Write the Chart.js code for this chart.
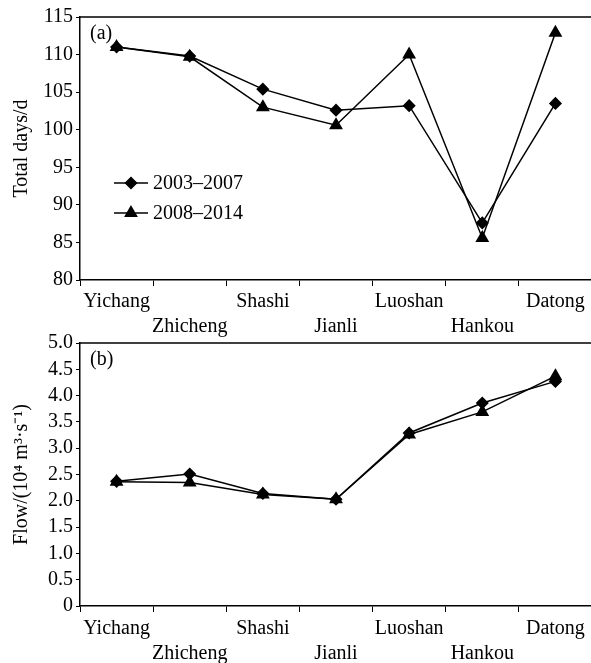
<!DOCTYPE html>
<html>
<head>
<meta charset="utf-8">
<script src="https://cdn.jsdelivr.net/npm/chart.js@4/dist/chart.umd.min.js"></script>
<style>
  html, body { margin: 0; padding: 0; background: #fff; overflow: hidden; width: 591px; height: 663px; }
  .panel { position: absolute; left: 0; width: 600px; height: 340px; }
  #wrapA { top: 0; }
  #wrapB { top: 323px; }
</style>
</head>
<body>
<div class="panel" id="wrapA"><canvas id="chartA" width="600" height="340"></canvas></div>
<div class="panel" id="wrapB"><canvas id="chartB" width="600" height="340"></canvas></div>
<script>
const stations = ['Yichang', 'Zhicheng', 'Shashi', 'Jianli', 'Luoshan', 'Hankou', 'Datong'];
const seriesNames = ['2003–2007', '2008–2014'];

// (a) total days
const daysEarly = [111.0, 109.8, 105.4, 102.6, 103.2, 87.6, 103.5];
const daysLate = [111.0, 109.7, 103.0, 100.6, 110.0, 85.6, 112.9];

// (b) flow, 10^4 m3/s
const flowEarly = [2.37, 2.51, 2.14, 2.03, 3.29, 3.86, 4.27];
const flowLate = [2.36, 2.35, 2.12, 2.03, 3.26, 3.69, 4.37];

const FONT = 'Liberation Serif';

// alternate labels on two rows like the original figure
const twoRowLabels = stations.map((s, i) => i % 2 === 0 ? [s, ''] : ['', s]);

const panelDecor = {
  id: 'panelDecor',
  afterDraw(chart, args, opts) {
    const ctx = chart.ctx;
    const a = chart.chartArea;
    ctx.save();
    ctx.strokeStyle = '#000';
    ctx.lineWidth = 1.5;
    ctx.beginPath();
    ctx.moveTo(a.left, a.top);
    ctx.lineTo(a.right, a.top);
    ctx.lineTo(a.right, a.bottom);
    ctx.stroke();

    ctx.fillStyle = '#000';
    ctx.font = '20px "' + FONT + '"';
    ctx.textBaseline = 'middle';
    ctx.textAlign = 'left';
    ctx.fillText(opts.tag, a.left + 10, a.top + 17);

    if (opts.legend) {
      chart.data.datasets.forEach((ds, i) => {
        const y = opts.legend.y + i * 30;
        const x0 = a.left + 34;
        ctx.beginPath();
        ctx.lineWidth = 1.5;
        ctx.moveTo(x0, y);
        ctx.lineTo(x0 + 34, y);
        ctx.stroke();
        Chart.helpers.drawPoint(ctx, {
          pointStyle: ds.pointStyle,
          radius: ds.pointRadius,
          borderWidth: 1
        }, x0 + 17, y);
        ctx.fillText(ds.label, x0 + 39, y + 1);
      });
    }
    ctx.restore();
  }
};

function makePanel(id, early, late, yMin, yMax, step, yTitle, tag, legend, topPad, xHeight, xPad) {
  return new Chart(document.getElementById(id), {
    type: 'line',
    data: {
      labels: twoRowLabels,
      datasets: [
        {
          label: seriesNames[0],
          data: early,
          borderColor: '#000',
          backgroundColor: '#000',
          borderWidth: 1.5,
          pointStyle: 'rectRot',
          pointRadius: 5.5,
          tension: 0
        },
        {
          label: seriesNames[1],
          data: late,
          borderColor: '#000',
          backgroundColor: '#000',
          borderWidth: 1.5,
          pointStyle: 'triangle',
          pointRadius: 6.5,
          tension: 0
        }
      ]
    },
    options: {
      responsive: false,
      animation: false,
      layout: { padding: { top: topPad, right: 7, left: 0, bottom: 0 } },
      plugins: {
        legend: { display: false },
        tooltip: { enabled: false },
        panelDecor: { tag: tag, legend: legend }
      },
      scales: {
        x: {
          offset: true,
          border: { color: '#000', width: 1.5 },
          grid: { offset: true, drawOnChartArea: false, drawTicks: true, tickLength: 6, color: '#000', lineWidth: 1 },
          ticks: {
            autoSkip: false, maxRotation: 0, color: '#000', padding: xPad,
            font: { family: FONT, size: 20, lineHeight: 1.25 }
          },
          afterFit: s => { s.height = xHeight; }
        },
        y: {
          min: yMin,
          max: yMax,
          border: { color: '#000', width: 1.5 },
          grid: { drawOnChartArea: false, drawTicks: true, tickLength: 4, color: '#000', lineWidth: 1 },
          ticks: {
            stepSize: step, autoSkip: false, color: '#000', padding: 3,
            font: { family: FONT, size: 20 },
            callback: v => step < 1 ? (v === 0 ? '0' : v.toFixed(1)) : v
          },
          title: {
            display: true, text: yTitle, color: '#000',
            font: { family: FONT, size: 20 },
            padding: { top: 10, bottom: 0 }
          },
          afterFit: s => { s.width = 80; }
        }
      }
    },
    plugins: [panelDecor]
  });
}

makePanel('chartA', daysEarly, daysLate, 80, 115, 5, 'Total days/d', '(a)', { y: 183 }, 17, 60, 3);
makePanel('chartB', flowEarly, flowLate, 0, 5, 0.5, 'Flow/(10⁴ m³·s⁻¹)', '(b)', null, 20, 57, 4);
</script>
</body>
</html>
